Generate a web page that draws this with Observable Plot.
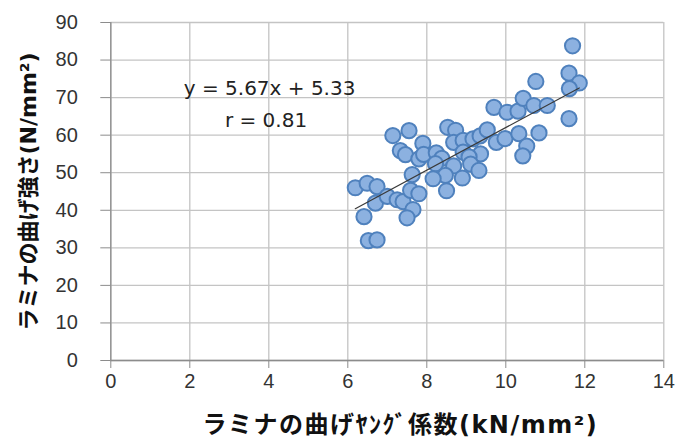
<!DOCTYPE html>
<html>
<head>
<meta charset="utf-8">
<script src="https://cdn.jsdelivr.net/npm/d3@7"></script>
<script src="https://cdn.jsdelivr.net/npm/@observablehq/plot@0.6"></script>
<style>
  html, body { margin: 0; padding: 0; background: #fff; }
  #chart { width: 675px; height: 441px; }
</style>
</head>
<body>
<div id="chart"></div>
<script>
// ---- data ----
const xTicks = [0, 2, 4, 6, 8, 10, 12, 14];
const yTicks = [0, 10, 20, 30, 40, 50, 60, 70, 80, 90];

// ラミナの曲げヤング係数 (kN/mm²)
const youngModulus = [
  6.19, 6.49, 6.74, 6.70, 7.00, 7.25, 7.40, 6.41, 6.52, 6.74,
  7.14, 7.55, 7.33, 7.46, 7.90, 7.80, 7.92, 7.63, 7.59, 7.80,
  7.65, 7.50, 8.53, 8.73, 8.68, 8.92, 9.17, 9.35, 9.53, 9.76,
  9.98, 8.24, 8.38, 8.92, 9.36, 9.07, 8.22, 8.68, 9.11, 9.32,
  8.47, 8.16, 8.90, 8.50, 9.70, 10.03, 10.31, 10.44, 10.71, 11.05,
  10.76, 11.69, 11.60, 11.86, 11.61, 11.60, 10.84, 10.33, 10.53, 10.43
];
// ラミナの曲げ強さ (N/mm²)
const bendingStrength = [
  46.0, 47.2, 46.3, 41.9, 43.7, 42.8, 42.3, 38.3, 31.9, 32.1,
  59.9, 61.2, 55.9, 54.8, 57.8, 53.7, 54.9, 49.5, 45.3, 44.4,
  40.2, 38.0, 62.1, 61.3, 58.1, 58.6, 59.0, 59.8, 61.4, 58.1,
  59.1, 55.3, 53.8, 55.5, 55.0, 54.2, 52.4, 51.8, 52.3, 50.6,
  49.3, 48.4, 48.6, 45.2, 67.4, 66.1, 66.4, 69.8, 67.9, 67.9,
  74.3, 83.8, 76.5, 73.9, 72.4, 64.4, 60.6, 60.4, 57.1, 54.5
];

// trendline as given on the chart
const slope = 5.67;
const intercept = 5.33;
const annotationTexts = ["y = 5.67x + 5.33", "r = 0.81"];
const annotationX = [4.02, 3.93];
const annotationY = [72.5, 63.9];

const xLabel = "ラミナの曲げﾔﾝｸﾞ係数(kN/mm²)";
const yLabel = "ラミナの曲げ強さ(N/mm²)";

// ---- build ----
const points = youngModulus.map((x, i) => ({x, y: bendingStrength[i]}));
const xExt = d3.extent(youngModulus);
const trend = xExt.map(x => ({x, y: slope * x + intercept}));
const notes = annotationTexts.map((t, i) => ({t, x: annotationX[i], y: annotationY[i]}));

const labelFont = "'DejaVu Sans', 'Noto Sans CJK JP', sans-serif";
const gridColor = "#c4c4c4";
const axisColor = "#8c8c8c";

const plot = Plot.plot({
  width: 675,
  height: 441,
  marginLeft: 110.3,
  marginRight: 11.7,
  marginTop: 22,
  marginBottom: 81,
  style: {fontFamily: "'Liberation Sans', Arial, sans-serif", fontSize: "20px", color: "#333", background: "#fff"},
  x: {domain: [0, 14], ticks: xTicks},
  y: {domain: [0, 90], ticks: yTicks},
  marks: [
    Plot.gridX(xTicks, {stroke: gridColor, strokeOpacity: 1, strokeWidth: 1.3}),
    Plot.gridY(yTicks, {stroke: gridColor, strokeOpacity: 1, strokeWidth: 1.3}),
    Plot.ruleX([0], {stroke: axisColor, strokeWidth: 1.3}),
    Plot.ruleY([0], {stroke: axisColor, strokeWidth: 1.3}),
    Plot.axisX(xTicks, {tickSize: 8, tickPadding: 5, stroke: axisColor, fill: "#333", fontSize: 20, label: null}),
    Plot.axisY(yTicks, {tickSize: 10, tickPadding: 23, stroke: axisColor, fill: "#333", fontSize: 20, label: null}),
    Plot.dot(points, {x: "x", y: "y", r: 7.6, fill: "#8cb1e0", stroke: "#4f81bd", strokeWidth: 2, fillOpacity: 1}),
    Plot.line(trend, {x: "x", y: "y", stroke: "#3a3a3a", strokeWidth: 1.2}),
    Plot.text(notes, {x: "x", y: "y", text: "t", fontSize: 20, fill: "#222", fontFamily: "'DejaVu Sans', sans-serif", textAnchor: "middle", lineAnchor: "middle"}),
    Plot.text([xLabel], {frameAnchor: "bottom", dx: 13, dy: 65, text: d => d, fontSize: 24, fontWeight: "bold", fill: "#111", fontFamily: labelFont, textAnchor: "middle", lineAnchor: "middle"}),
    Plot.text([yLabel], {frameAnchor: "left", dx: -82, rotate: -90, text: d => d, fontSize: 22, fontWeight: "bold", fill: "#111", fontFamily: labelFont, textAnchor: "middle", lineAnchor: "middle"})
  ]
});
// widen the x-axis title spacing to match the reference
d3.select(plot).selectAll("text").filter(function() { return this.textContent === xLabel; })
  .style("letter-spacing", "1.5px");
document.getElementById("chart").appendChild(plot);
</script>
</body>
</html>
